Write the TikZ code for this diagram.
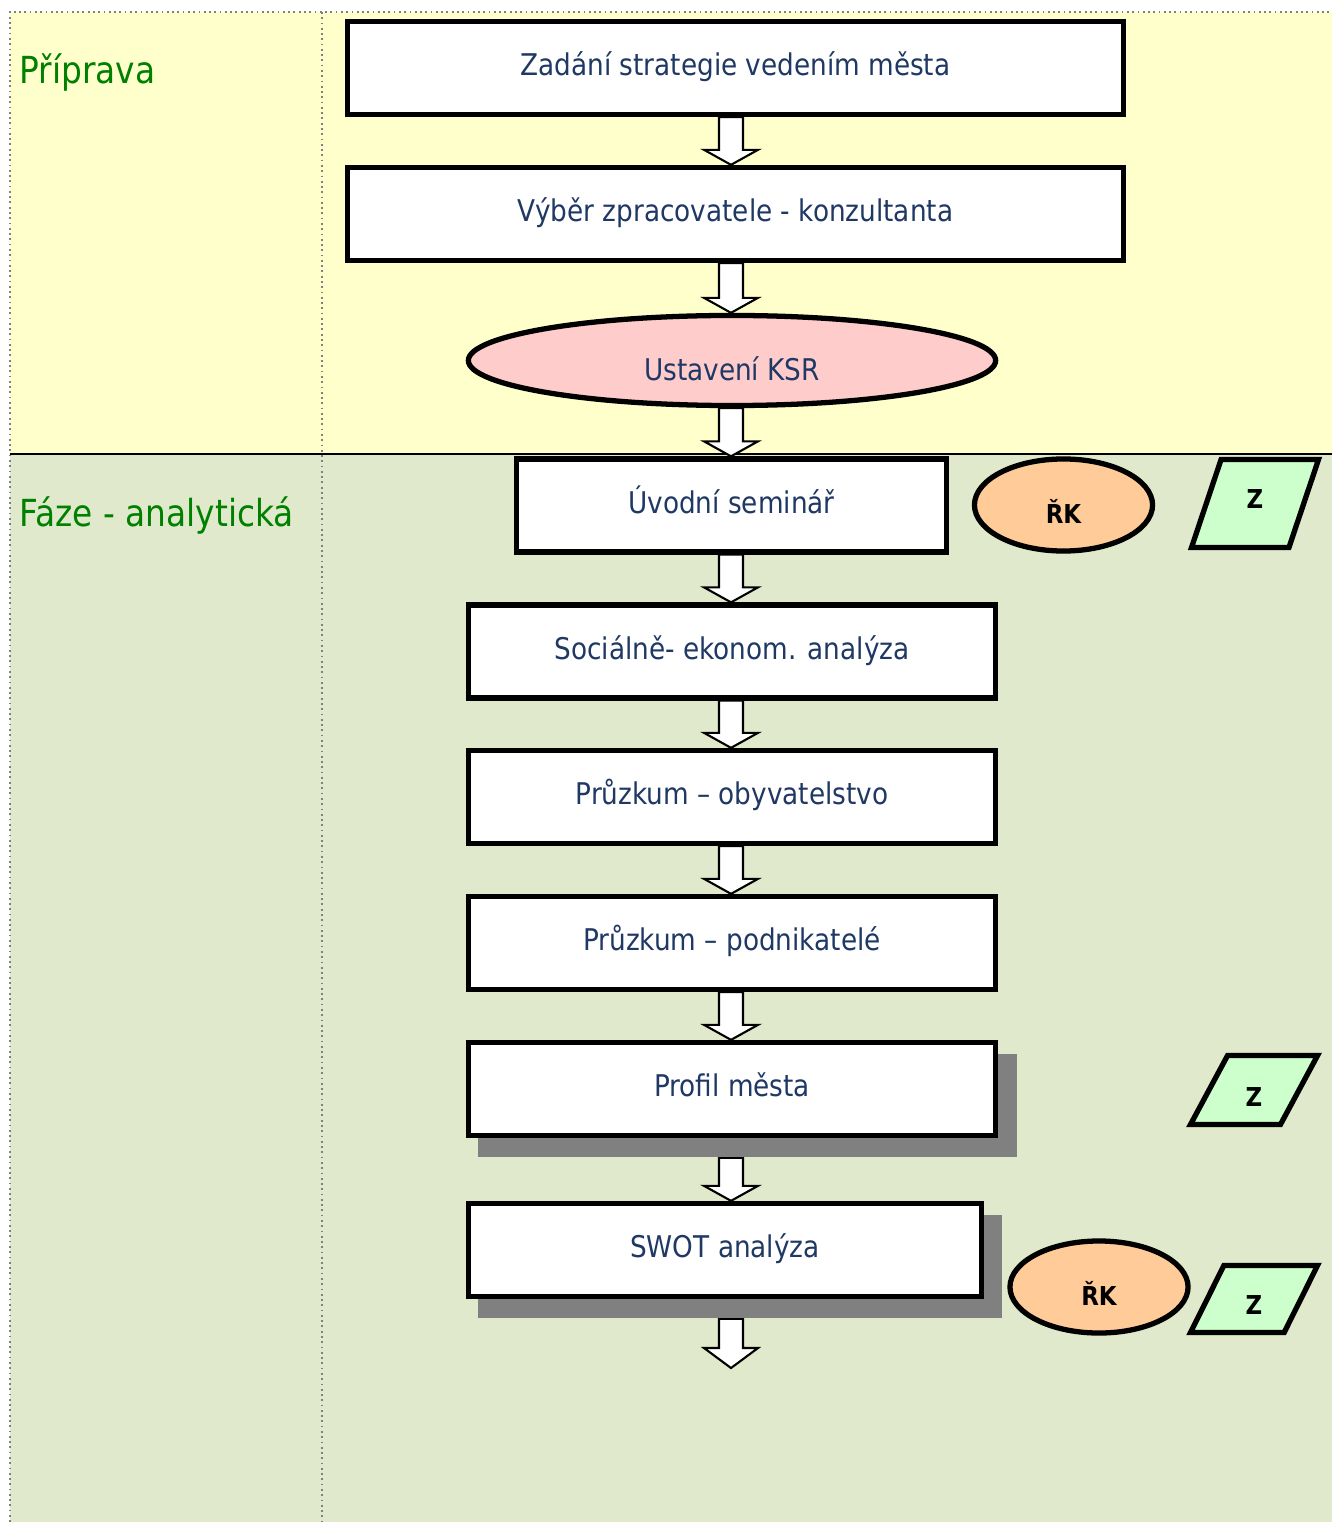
\documentclass[tikz,border=0pt]{standalone}
\usepackage{fontspec}
\setmainfont{DejaVu Sans}[FakeStretch=0.88]
\usetikzlibrary{calc,shapes.geometric}
\pgfdeclarelayer{back}
\pgfdeclarelayer{mid}
\pgfsetlayers{back,mid,main}

\definecolor{prepyellow}{RGB}{255,255,204}
\definecolor{analgreen}{RGB}{224,233,203}
\definecolor{ksrpink}{RGB}{255,204,204}
\definecolor{rkorange}{RGB}{255,204,153}
\definecolor{zgreen}{RGB}{204,255,204}
\definecolor{textnavy}{RGB}{31,56,100}
\definecolor{phasegreen}{RGB}{0,128,0}

\tikzset{
	gridline/.style={densely dotted, gray, line width=0.5pt},
	phase/.style={anchor=base west, text=phasegreen, inner sep=0pt, font=\fontsize{10.6}{12}\selectfont},
	box/.style={draw, line width=1.5pt, fill=white, text=textnavy, inner sep=0pt,
		font=\fontsize{8.5}{10}\selectfont, text height=0.22cm, text depth=0.07cm,
		minimum width=5.27cm, minimum height=0.93cm},
	shadowbox/.style={fill=black!50, inner sep=0pt, minimum height=1.03cm},
	oval/.style={ellipse, draw, line width=1.5pt, inner sep=0pt},
	rkoval/.style={oval, fill=rkorange, font=\fontsize{7.4}{9}\selectfont\bfseries,
		minimum width=1.78cm, minimum height=0.92cm, text height=0.36cm, text depth=0cm},
	zdoc/.style={trapezium, trapezium stretches=true, draw, line width=1.5pt, fill=zgreen,
		inner sep=0pt, font=\fontsize{7.4}{9}\selectfont\bfseries, minimum width=1.27cm},
	blockarrow/.style={draw, fill=white, line width=0.6pt, line join=miter}
}

\newcommand\blkarrow[3][15]{%
	\coordinate (ba-a) at (#2 -| axis);
	\coordinate (ba-b) at (#3 -| axis);
	\draw[blockarrow] ($(ba-a)+(-12,0)$) -- ($(ba-b)+(-12,-#1)$) -- ($(ba-b)+(-27,-#1)$) -- (ba-b)
		-- ($(ba-b)+(27,-#1)$) -- ($(ba-b)+(12,-#1)$) -- ($(ba-a)+(12,0)$) -- cycle;}

\begin{document}
\begin{tikzpicture}[x=0.01cm, y=-0.01cm]
	%%%%% START %%%%%
	\useasboundingbox (0,0) rectangle (1332,1522);
	
	\begin{pgfonlayer}{back}
		\fill[prepyellow] (10,12) rectangle (1332,454);
		\fill[analgreen] (10,454) rectangle (1332,1522);
		\draw[gridline] (10,1522) -- (10,12) -- (1332,12);
		\draw[gridline] (322,12) -- (322,1522);
		\draw[line width=0.7pt] (10,454) -- (1332,454);
	\end{pgfonlayer}
	
	\node[phase] (priprava) at (19,84) {Příprava};
	\node[phase] (analyza) at (19,527) {Fáze - analytická};
	
	\coordinate (axis) at (731,0);
	
	\node[box, minimum width=7.76cm] (zadani) at (735.5,68) {Zadání strategie vedením města};
	\node[box, minimum width=7.76cm] (vyber) at (735.5,214) {Výběr zpracovatele - konzultanta};
	\node[oval, fill=ksrpink, text=textnavy, font=\fontsize{8.5}{10}\selectfont,
		minimum width=5.27cm, minimum height=0.9cm, text height=0.4cm, text depth=0cm] (ksr) at (732,360.5) {Ustavení KSR};
	
	\node[box, minimum width=4.30cm] (uvod) at (731.5,505.5) {Úvodní seminář};
	\node[box] (socio) at (732,651.5) {Sociálně- ekonom. analýza};
	\node[box] (obyv) at (732,797) {Průzkum -- obyvatelstvo};
	\node[box] (podnik) at (732,943) {Průzkum -- podnikatelé};
	
	\node[shadowbox, minimum width=5.39cm] (profil-sh) at (747.5,1105.5) {};
	\node[box] (profil) at (732,1089) {Profil města};
	\node[shadowbox, minimum width=5.24cm] (swot-sh) at (740,1266.5) {};
	\node[box, minimum width=5.13cm] (swot) at (725,1250) {SWOT analýza};
	\coordinate (flowend) at (731,1368);
	
	\node[rkoval] (rk1) at (1063.5,505) {ŘK};
	\node[rkoval] (rk2) at (1099,1287) {ŘK};
	
	\node[zdoc, trapezium left angle=76, trapezium right angle=104, minimum height=0.88cm,
		text height=0.19cm, text depth=0.1cm] (z1) at (1255,503.5) {Z};
	\node[zdoc, trapezium left angle=70, trapezium right angle=110, minimum height=0.69cm,
		text height=0.32cm, text depth=0cm] (z2) at (1254,1090) {Z};
	\node[zdoc, trapezium left angle=73, trapezium right angle=107, minimum height=0.67cm,
		text height=0.3cm, text depth=0cm] (z3) at (1254,1299) {Z};
	
	\begin{pgfonlayer}{mid}
		\blkarrow{zadani.south}{vyber.north}
		\blkarrow{vyber.south}{ksr.north}
		\blkarrow{ksr.south}{uvod.north}
		\blkarrow{uvod.south}{socio.north}
		\blkarrow{socio.south}{obyv.north}
		\blkarrow{obyv.south}{podnik.north}
		\blkarrow{podnik.south}{profil.north}
		\blkarrow{profil-sh.south}{swot.north}
		\blkarrow[20]{swot-sh.south}{flowend}
	\end{pgfonlayer}
	
	%%%%% END %%%%%
\end{tikzpicture}
\end{document}
